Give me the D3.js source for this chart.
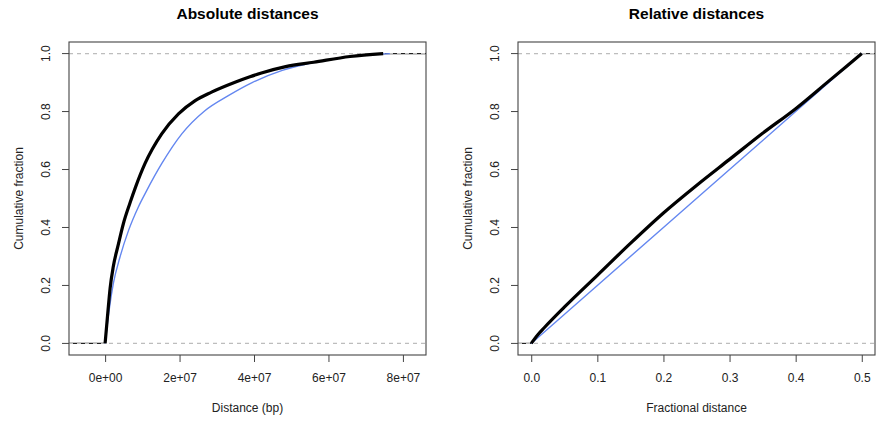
<!DOCTYPE html>
<html>
<head>
<meta charset="utf-8">
<script src="https://cdn.jsdelivr.net/npm/d3@7"></script>
<style>
  body { margin: 0; background: #fff; }
  svg { display: block; font-family: "Liberation Sans", Arial, sans-serif; }
</style>
</head>
<body>
<svg id="chart" width="880" height="421"></svg>
<script>
// absolute distances (bp) - observed (black) vs shuffled (blue)
const absObsX = [0, 0.72e6, 1.34e6, 2.2e6, 3.6e6, 4.9e6, 6.7e6, 8.2e6, 10.7e6, 15.2e6, 19.7e6, 24.2e6, 28.6e6, 34.9e6, 38.9e6, 42e6, 48.5e6, 56e6, 65.8e6, 74.7e6];
const absObsY = [0, 0.105, 0.19, 0.265, 0.344, 0.413, 0.485, 0.54, 0.62, 0.723, 0.792, 0.838, 0.867, 0.901, 0.92, 0.933, 0.955, 0.97, 0.99, 1.0];
const absExpX = [0, 1.07e6, 2.2e6, 4.0e6, 6.3e6, 8.9e6, 11.2e6, 15.2e6, 20.6e6, 26.8e6, 33.1e6, 39.5e6, 47.6e6, 56.3e6, 65.8e6, 76.5e6];
const absExpY = [0, 0.114, 0.206, 0.298, 0.39, 0.47, 0.528, 0.62, 0.723, 0.803, 0.855, 0.9, 0.942, 0.97, 0.99, 1.0];

// relative distances (fraction)
const relObsX = [0, 0.01, 0.02, 0.05, 0.1, 0.15, 0.2, 0.25, 0.3, 0.35, 0.4, 0.45, 0.5];
const relObsY = [0, 0.03, 0.055, 0.125, 0.235, 0.345, 0.45, 0.545, 0.635, 0.725, 0.81, 0.905, 1.0];
const relExpX = [0, 0.1, 0.2, 0.3, 0.4, 0.5];
const relExpY = [0, 0.2, 0.4, 0.6, 0.8, 1.0];

const absTicks = [0, 2e7, 4e7, 6e7, 8e7];
const absTickLabels = ["0e+00", "2e+07", "4e+07", "6e+07", "8e+07"];
const relTicks = [0, 0.1, 0.2, 0.3, 0.4, 0.5];
const yTicks = [0, 0.2, 0.4, 0.6, 0.8, 1.0];

const svg = d3.select("#chart");
const blue = "#6487f0";

function panel(o) {
    const x = d3.scaleLinear().domain(o.xDomain).range([o.left, o.right]);
    const y = d3.scaleLinear().domain([-0.04, 1.04]).range([355, 42]);
    const g = svg.append("g");

    // x axis
    const xa = g.append("g")
        .attr("transform", "translate(0,355)")
        .call(d3.axisBottom(x).tickValues(o.ticks).tickFormat((d, i) => o.tickLabels[i]).tickSize(7).tickPadding(11));
    // y axis
    const ya = g.append("g")
        .attr("transform", `translate(${o.left},0)`)
        .call(d3.axisLeft(y).tickValues(yTicks).tickFormat(d3.format(".1f")).tickSize(7).tickPadding(0));
    for (const a of [xa, ya]) {
        a.select(".domain").remove();
        a.selectAll("line").attr("stroke", "#444");
        a.selectAll("text").attr("font-size", 12).attr("fill", "#222")
            .attr("font-family", "Liberation Sans, Arial, sans-serif");
    }
    ya.selectAll("text")
        .attr("text-anchor", "middle")
        .attr("dy", 0)
        .attr("transform", d => `translate(${-19},${y(d)}) rotate(-90)`)
        .attr("x", 0).attr("y", 0);
    ya.selectAll(".tick").attr("transform", null);
    ya.selectAll(".tick line").attr("transform", d => `translate(0,${y(d)})`);

    // ecdf tails (thin black), under gray reference lines
    const line = d3.line().x(d => x(d[0])).y(d => y(d[1]));
    const smooth = d3.line().x(d => x(d[0])).y(d => y(d[1])).curve(d3.curveMonotoneX);
    g.append("path")
        .attr("d", line([[o.xDomain[0], 0], [0, 0]]))
        .attr("stroke", "#222").attr("stroke-width", 1.2).attr("fill", "none");
    g.append("path")
        .attr("d", line([[o.obsX[o.obsX.length - 1], 1], [o.xDomain[1], 1]]))
        .attr("stroke", "#222").attr("stroke-width", 1.2).attr("fill", "none");

    // gray dashed lines at 0 and 1
    g.selectAll(".ref").data([0, 1]).join("line")
        .attr("x1", o.left).attr("x2", o.right)
        .attr("y1", d => y(d)).attr("y2", d => y(d))
        .attr("stroke", "#bdbdbd").attr("stroke-width", 1.2)
        .attr("stroke-dasharray", "4,4");

    // curves
    g.append("path")
        .attr("d", smooth(d3.zip(o.expX, o.expY)))
        .attr("stroke", blue).attr("stroke-width", 1.4).attr("fill", "none");
    g.append("path")
        .attr("d", smooth(d3.zip(o.obsX, o.obsY)))
        .attr("stroke", "#000").attr("stroke-width", 3.2).attr("fill", "none")
        .attr("stroke-linejoin", "round");

    // box
    g.append("rect")
        .attr("x", o.left).attr("y", 42)
        .attr("width", o.right - o.left).attr("height", 355 - 42)
        .attr("fill", "none").attr("stroke", "#444").attr("stroke-width", 1.1);

    // labels
    const cx = (o.left + o.right) / 2;
    g.append("text").attr("x", cx).attr("y", 19)
        .attr("text-anchor", "middle").attr("font-size", 15.5).attr("font-weight", "bold")
        .text(o.title);
    g.append("text").attr("x", cx).attr("y", 412)
        .attr("text-anchor", "middle").attr("font-size", 12).attr("fill", "#222")
        .text(o.xTitle);
    g.append("text")
        .attr("transform", `translate(${o.left - 46},${(42 + 355) / 2}) rotate(-90)`)
        .attr("text-anchor", "middle").attr("font-size", 12).attr("fill", "#222")
        .text("Cumulative fraction");
}

panel({
    left: 69, right: 426,
    xDomain: [-9.7e6, 8.62e7],
    ticks: absTicks, tickLabels: absTickLabels,
    obsX: absObsX, obsY: absObsY, expX: absExpX, expY: absExpY,
    title: "Absolute distances", xTitle: "Distance (bp)"
});

panel({
    left: 518, right: 875,
    xDomain: [-0.02, 0.52],
    ticks: relTicks, tickLabels: relTicks.map(d3.format(".1f")),
    obsX: relObsX, obsY: relObsY, expX: relExpX, expY: relExpY,
    title: "Relative distances", xTitle: "Fractional distance"
});
</script>
</body>
</html>
